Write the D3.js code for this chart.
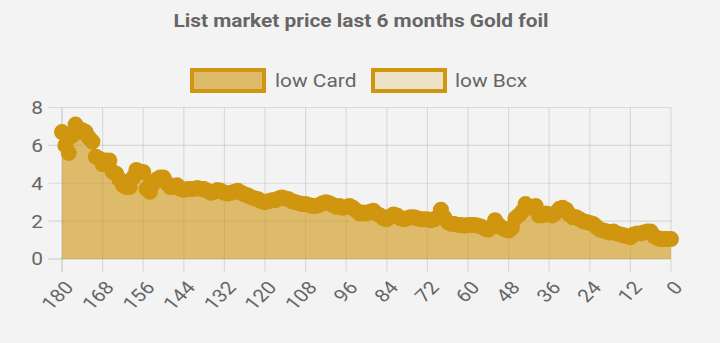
<!DOCTYPE html>
<html>
<head>
<meta charset="utf-8">
<script src="https://cdn.jsdelivr.net/npm/d3@7"></script>
<style>
  html, body { margin: 0; padding: 0; background: #f3f3f3; }
  svg { display: block; font-family: Roboto, "Noto Sans", sans-serif; }
</style>
</head>
<body>
<svg id="chart" width="720" height="343"></svg>
<script>
const title = "List market price last 6 months Gold foil";
const seriesNames = ["low Card", "low Bcx"];
const xTicks = [180, 168, 156, 144, 132, 120, 108, 96, 84, 72, 60, 48, 36, 24, 12, 0];
const yTicks = [0, 2, 4, 6, 8];
const days = [180,179,178,177,176,175,174,173,172,171,170,169,168,167,166,165,164,163,162,161,160,159,158,157,156,155,154,153,152,151,150,149,148,147,146,145,144,143,142,141,140,139,138,137,136,135,134,133,132,131,130,129,128,127,126,125,124,123,122,121,120,119,118,117,116,115,114,113,112,111,110,109,108,107,106,105,104,103,102,101,100,99,98,97,96,95,94,93,92,91,90,89,88,87,86,85,84,83,82,81,80,79,78,77,76,75,74,73,72,71,70,69,68,67,66,65,64,63,62,61,60,59,58,57,56,55,54,53,52,51,50,49,48,47,46,45,44,43,42,41,40,39,38,37,36,35,34,33,32,31,30,29,28,27,26,25,24,23,22,21,20,19,18,17,16,15,14,13,12,11,10,9,8,7,6,5,4,3,2,1,0];
const lowCard = [6.7,6.0,5.6,6.5,7.1,6.7,6.8,6.7,6.4,6.2,5.4,5.3,5.0,5.2,5.2,4.6,4.5,4.2,3.9,3.8,3.8,4.3,4.7,4.6,4.6,3.7,3.55,4.0,4.2,4.3,4.3,4.0,3.8,3.8,3.9,3.7,3.65,3.7,3.7,3.7,3.75,3.7,3.7,3.6,3.5,3.55,3.65,3.6,3.5,3.45,3.5,3.55,3.6,3.5,3.4,3.35,3.25,3.2,3.15,3.05,3.0,3.05,3.1,3.1,3.2,3.25,3.2,3.15,3.05,3.0,2.95,2.9,2.9,2.85,2.8,2.8,2.85,2.95,3.0,2.95,2.85,2.75,2.8,2.7,2.75,2.8,2.7,2.55,2.4,2.45,2.4,2.5,2.55,2.4,2.3,2.15,2.1,2.25,2.35,2.3,2.15,2.1,2.15,2.2,2.2,2.15,2.1,2.1,2.1,2.05,2.1,2.2,2.6,2.2,1.95,1.85,1.85,1.8,1.8,1.75,1.8,1.8,1.8,1.75,1.7,1.6,1.55,1.7,2.05,1.8,1.65,1.55,1.5,1.65,2.15,2.3,2.5,2.9,2.75,2.7,2.8,2.3,2.3,2.4,2.35,2.3,2.45,2.65,2.7,2.6,2.35,2.2,2.2,2.1,2.0,1.95,1.9,1.85,1.7,1.55,1.5,1.45,1.4,1.45,1.35,1.3,1.25,1.2,1.15,1.3,1.35,1.35,1.4,1.45,1.45,1.2,1.1,1.05,1.05,1.05,1.05];
const lowBcx = [];

const gold = "#d0960f";
const fillCard = "rgba(208,150,15,0.6)";
const fillBcx = "rgba(208,150,15,0.2)";
const textColor = "#666";
const sx = 1.16; // horizontal text stretch seen in the reference

const svg = d3.select("#chart");
const x = d3.scaleLinear().domain([180, 0]).range([62, 671]);
const y = d3.scaleLinear().domain([0, 8]).range([259, 107.5]);

// title
svg.append("text").attr("transform", `translate(361,27) scale(${sx},1)`).attr("text-anchor", "middle")
  .attr("font-size", 18).attr("font-weight", "bold").attr("fill", textColor).text(title);

// legend
const legendBoxes = [{x: 192, fill: fillCard, tx: 275}, {x: 373, fill: fillBcx, tx: 455}];
legendBoxes.forEach((b, i) => {
  svg.append("rect").attr("x", b.x).attr("y", 70).attr("width", 72).attr("height", 21)
    .attr("fill", b.fill).attr("stroke", gold).attr("stroke-width", 4);
  svg.append("text").attr("transform", `translate(${b.tx},86.5) scale(${sx},1)`).attr("font-size", 18)
    .attr("fill", textColor).text(seriesNames[i]);
});

// grid
const grid = svg.append("g");
yTicks.forEach(t => {
  grid.append("line").attr("x1", 48).attr("x2", 671).attr("y1", y(t)).attr("y2", y(t))
    .attr("stroke", t === 0 ? "rgba(0,0,0,0.18)" : "rgba(0,0,0,0.1)").attr("stroke-width", 1.2);
  svg.append("text").attr("transform", `translate(43,${y(t)}) scale(${sx},1)`).attr("dy", "0.36em").attr("text-anchor", "end")
    .attr("font-size", 18).attr("fill", textColor).text(t);
});
xTicks.forEach(t => {
  grid.append("line").attr("x1", x(t)).attr("x2", x(t)).attr("y1", y(8)).attr("y2", 272)
    .attr("stroke", t === 180 ? "rgba(0,0,0,0.18)" : "rgba(0,0,0,0.1)").attr("stroke-width", 1.2);
  svg.append("text").attr("transform", `translate(${x(t) + 7},${284}) scale(${sx},1) rotate(-48)`)
    .attr("text-anchor", "end").attr("dy", "0.36em")
    .attr("font-size", 18).attr("fill", textColor).text(t);
});

// area
const data = days.map((d, i) => ({d, v: lowCard[i]}));
const area = d3.area().x(p => x(p.d)).y0(y(0)).y1(p => y(p.v)).curve(d3.curveMonotoneX);
svg.append("path").datum(data).attr("d", area).attr("fill", fillCard);
const line = d3.line().x(p => x(p.d)).y(p => y(p.v)).curve(d3.curveMonotoneX);
svg.append("path").datum(data).attr("d", line).attr("fill", "none")
  .attr("stroke", gold).attr("stroke-width", 3);
svg.append("g").selectAll("circle").data(data).join("circle")
  .attr("cx", p => x(p.d)).attr("cy", p => y(p.v)).attr("r", 7)
  .attr("fill", gold).attr("stroke", gold).attr("stroke-width", 2);
</script>
</body>
</html>
